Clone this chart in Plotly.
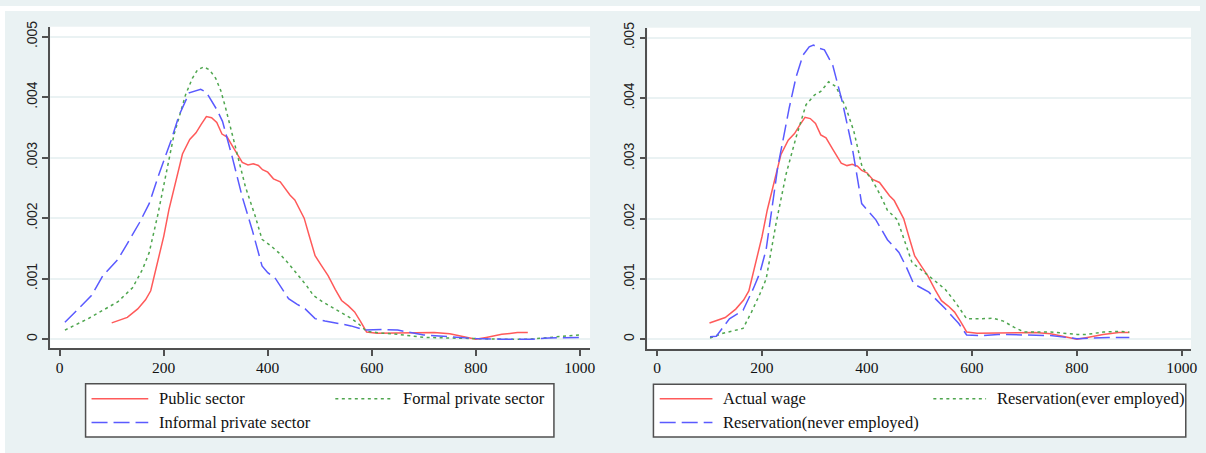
import plotly.graph_objects as go

W, H = 1206, 453

# ---------------- data (density values in units of 0.001) ----------------
public_x = [100,130,150,165,175,185,200,210,220,236,250,262,272,282,292,302,312,322,335,351,362,372,382,390,400,411,424,435,443,452,459,470,480,491,503,516,530,542,555,567,578,590,610,640,680,720,750,780,800,820,850,880,900]
public_y = [0.27,0.36,0.50,0.65,0.80,1.15,1.70,2.14,2.50,3.06,3.30,3.41,3.55,3.68,3.66,3.58,3.39,3.34,3.15,2.92,2.88,2.90,2.87,2.80,2.76,2.65,2.60,2.47,2.38,2.30,2.19,2.00,1.70,1.38,1.22,1.05,0.82,0.64,0.55,0.45,0.30,0.12,0.10,0.10,0.11,0.11,0.09,0.04,0.00,0.03,0.08,0.11,0.11]

formal_x = [10,57,112,140,159,172,188,204,220,230,242,255,265,277,288,300,310,319,328,338,357,376,389,405,421,440,459,475,488,505,523,545,561,575,590,620,650,700,750,800,850,900,940,970,1000]
formal_y = [0.15,0.35,0.62,0.85,1.15,1.43,2.03,2.73,3.39,3.68,4.04,4.31,4.45,4.50,4.45,4.31,4.10,3.82,3.50,3.17,2.52,2.03,1.65,1.55,1.43,1.25,1.05,0.88,0.72,0.62,0.53,0.42,0.34,0.25,0.13,0.10,0.08,0.03,0.02,0.00,0.00,0.00,0.03,0.05,0.07]

informal_x = [10,35,61,83,112,130,153,172,191,214,230,249,262,271,282,293,303,313,322,332,351,370,389,400,415,440,456,472,491,510,536,560,587,620,650,680,700,750,800,850,910,940,1000]
informal_y = [0.28,0.50,0.72,1.05,1.32,1.58,1.92,2.24,2.73,3.28,3.71,4.07,4.11,4.13,4.08,3.93,3.78,3.60,3.32,3.00,2.35,1.81,1.21,1.10,1.00,0.67,0.58,0.50,0.34,0.30,0.26,0.22,0.15,0.16,0.15,0.10,0.07,0.04,0.01,0.00,0.00,0.02,0.03]

actual_x = [100,130,150,165,175,185,200,210,220,236,250,262,272,282,292,302,312,322,335,351,362,372,382,390,400,411,424,435,443,452,459,470,480,491,503,516,530,542,555,567,578,590,610,640,680,720,750,780,800,820,850,880,900]
actual_y = [0.27,0.36,0.50,0.65,0.80,1.15,1.70,2.14,2.50,3.06,3.30,3.41,3.55,3.68,3.66,3.58,3.39,3.34,3.15,2.92,2.88,2.90,2.87,2.80,2.76,2.65,2.60,2.47,2.38,2.30,2.19,2.00,1.70,1.38,1.22,1.05,0.82,0.64,0.55,0.45,0.30,0.12,0.10,0.10,0.11,0.11,0.09,0.04,0.00,0.03,0.08,0.11,0.11]

ever_x = [101,126,164,180,196,208,227,246,265,284,300,312,327,341,360,375,391,410,425,439,458,472,486,518,549,568,590,620,640,660,680,700,750,800,820,850,880,900]
ever_y = [0.02,0.10,0.18,0.45,0.75,1.00,1.93,2.74,3.35,3.89,4.05,4.11,4.27,4.19,3.84,3.45,2.85,2.64,2.40,2.14,1.98,1.62,1.27,1.05,0.83,0.62,0.34,0.34,0.35,0.30,0.20,0.12,0.12,0.08,0.08,0.12,0.13,0.12]

never_x = [101,113,138,164,183,196,208,220,230,252,265,278,290,298,308,319,335,353,372,390,405,417,439,461,475,489,518,549,575,590,620,650,700,750,790,800,830,860,900]
never_y = [0.04,0.05,0.34,0.48,0.83,1.10,1.49,2.20,2.85,3.84,4.35,4.71,4.85,4.88,4.83,4.80,4.54,3.94,3.18,2.25,2.10,1.98,1.65,1.44,1.20,0.92,0.78,0.51,0.26,0.07,0.06,0.08,0.07,0.06,0.02,0.01,0.02,0.03,0.03]

x_ticks = [0, 200, 400, 600, 800, 1000]
y_ticks = [0, 0.001, 0.002, 0.003, 0.004, 0.005]
y_ticktext = ["0", ".001", ".002", ".003", ".004", ".005"]

left_labels = ["Public sector", "Formal private sector", "Informal private sector"]
right_labels = ["Actual wage", "Reservation(ever employed)", "Reservation(never employed)"]

# ---------------- styles ----------------
RED = "#ff5a5a"
GREEN = "#4fa64f"
BLUE = "#5a5aff"
BG = "#eaf2f3"
AXC = "#505050"
SOLID = "solid"
DOT = "3px,3.5px"
DASH = "16px,6px"
LW = 1.5
SERIF = "Liberation Serif, Times New Roman, serif"
SANS = "Liberation Sans, Arial, sans-serif"

def px(xp):
    return xp / W

def py(yp):
    return 1 - yp / H

def scale(v):
    return [a * 0.001 for a in v]

fig = go.Figure()

series = [
    (public_x, public_y, RED, SOLID, "x", "y", left_labels[0]),
    (formal_x, formal_y, GREEN, DOT, "x", "y", left_labels[1]),
    (informal_x, informal_y, BLUE, DASH, "x", "y", left_labels[2]),
    (actual_x, actual_y, RED, SOLID, "x2", "y2", right_labels[0]),
    (ever_x, ever_y, GREEN, DOT, "x2", "y2", right_labels[1]),
    (never_x, never_y, BLUE, DASH, "x2", "y2", right_labels[2]),
]
for xs, ys, col, dash, xa, ya, name in series:
    fig.add_trace(go.Scatter(x=xs, y=scale(ys), mode="lines", name=name,
                             line=dict(color=col, width=LW, dash=dash),
                             xaxis=xa, yaxis=ya, showlegend=False,
                             hoverinfo="skip"))

def xaxis_cfg(dom, rng, anchor):
    return dict(domain=dom, range=rng, anchor=anchor,
                tickvals=x_ticks, ticktext=[str(t) for t in x_ticks],
                showgrid=False, zeroline=False,
                showline=True, linecolor=AXC, linewidth=1.5,
                ticks="outside", ticklen=6, tickwidth=1.5, tickcolor=AXC,
                ticklabelstandoff=-2,
                tickfont=dict(family=SERIF, size=15.5, color="#111"),
                fixedrange=True)

def yaxis_cfg(dom, rng, anchor):
    return dict(domain=dom, range=rng, anchor=anchor,
                tickvals=y_ticks, ticktext=y_ticktext, tickangle=-90,
                showgrid=True, gridcolor=BG, gridwidth=1.5, zeroline=False,
                showline=True, linecolor=AXC, linewidth=1.5,
                ticks="outside", ticklen=6, tickwidth=1.5, tickcolor=AXC,
                tickfont=dict(family=SANS, size=14, color="#222"),
                fixedrange=True)

fig.update_layout(
    width=W, height=H,
    margin=dict(l=0, r=0, t=0, b=0),
    paper_bgcolor=BG,
    plot_bgcolor="white",
    xaxis=xaxis_cfg([px(50.5), px(593)], [-18.2, 1019.7], "y"),
    yaxis=yaxis_cfg([py(347), py(21)], [-0.000152, 0.005163], "x"),
    xaxis2=xaxis_cfg([px(650.7), px(1197)], [-18.2, 1017.6], "y2"),
    yaxis2=yaxis_cfg([py(347.3), py(22)], [-0.000157, 0.005167], "x2"),
    showlegend=False,
)

shapes = []
# white outer border on top and left
shapes.append(dict(type="rect", xref="paper", yref="paper", x0=0, x1=1, y0=py(5), y1=1,
                   fillcolor="white", line=dict(width=0), layer="above"))
shapes.append(dict(type="rect", xref="paper", yref="paper", x0=0, x1=px(5), y0=0, y1=1,
                   fillcolor="white", line=dict(width=0), layer="above"))

annotations = []

def legend(box, items):
    x0, y0, x1, y1 = box
    shapes.append(dict(type="rect", xref="paper", yref="paper",
                       x0=px(x0), x1=px(x1), y0=py(y1), y1=py(y0),
                       fillcolor="white", line=dict(color=AXC, width=1.5), layer="above"))
    for (sx0, sx1, sy, tx, label, col, dash) in items:
        shapes.append(dict(type="line", xref="paper", yref="paper",
                           x0=px(sx0), x1=px(sx1), y0=py(sy), y1=py(sy),
                           line=dict(color=col, width=LW, dash=dash), layer="above"))
        annotations.append(dict(xref="paper", yref="paper", x=px(tx), y=py(sy),
                                xanchor="left", yanchor="middle", showarrow=False,
                                text=label, font=dict(family=SERIF, size=16.5, color="#111")))

legend((86, 382.7, 556.7, 436.7), [
    (92, 149, 398, 158, left_labels[0], RED, SOLID),
    (337, 393, 398, 403, left_labels[1], GREEN, DOT),
    (92, 149, 422, 158, left_labels[2], BLUE, DASH),
])
legend((656.7, 383.3, 1191.7, 436.7), [
    (663, 716, 398, 725, right_labels[0], RED, SOLID),
    (938, 991, 398, 1000, right_labels[1], GREEN, DOT),
    (663, 716, 422, 725, right_labels[2], BLUE, DASH),
])

fig.update_layout(shapes=shapes, annotations=annotations)

fig.write_html("out.html")
